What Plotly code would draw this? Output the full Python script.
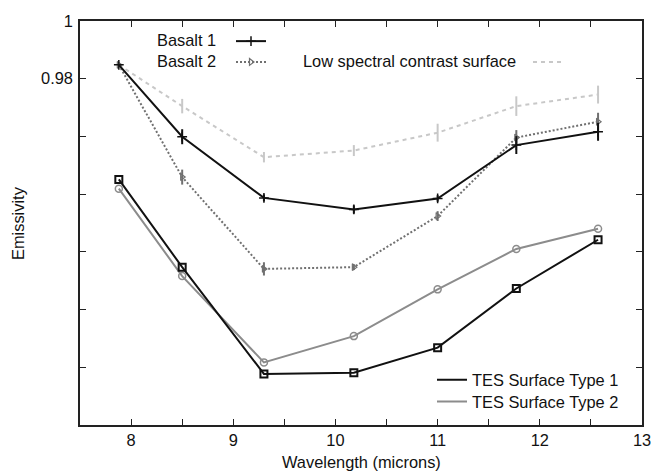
import plotly.graph_objects as go

# TES band centres (microns)
wavelength = [7.88, 8.50, 9.30, 10.18, 11.00, 11.77, 12.57]

basalt1 = [0.9848, 0.9599, 0.9387, 0.9347, 0.9385, 0.9570, 0.9616]
basalt1_err = [0.0, 0.0026, 0.0012, 0.0014, 0.0011, 0.0031, 0.0031]

basalt2 = [0.9848, 0.9459, 0.9141, 0.9147, 0.9324, 0.9596, 0.9651]
basalt2_err = [0.0, 0.0026, 0.0023, 0.0010, 0.0017, 0.0026, 0.0031]

low_contrast = [0.9848, 0.9705, 0.9528, 0.9551, 0.9613, 0.9705, 0.9745]
low_contrast_err = [0.0, 0.0025, 0.0018, 0.0019, 0.0031, 0.0034, 0.0031]

tes_type1 = [0.9451, 0.9147, 0.8777, 0.8781, 0.8868, 0.9073, 0.9242]
tes_type2 = [0.9419, 0.9116, 0.8817, 0.8908, 0.9070, 0.9210, 0.9280]

x_ticks = [8, 8.5, 9, 9.5, 10, 10.5, 11, 11.5, 12, 12.5, 13]
x_ticktext = ["8", "", "9", "", "10", "", "11", "", "12", "", "13"]
y_ticks = [0.88, 0.90, 0.92, 0.94, 0.96, 0.98, 1.0]
y_ticktext = ["", "", "", "", "", "0.98", "1"]

FONT = "Liberation Sans, Arial, sans-serif"
FS = 16.4
BLACK = "#111111"
MID_GREY = "#707070"
LIGHT_GREY = "#c8c8c8"
TES2_GREY = "#8c8c8c"

fig = go.Figure()

fig.add_trace(go.Scatter(
    x=wavelength, y=low_contrast, name="", legend="legend3",
    mode="lines", showlegend=True,
    line=dict(color=LIGHT_GREY, width=2, dash="4px,4px"),
    error_y=dict(type="data", array=low_contrast_err, width=0,
                 thickness=2, color=LIGHT_GREY),
))
fig.add_trace(go.Scatter(
    x=wavelength, y=basalt2, name="", legend="legend2",
    mode="lines+markers", showlegend=True,
    line=dict(color=MID_GREY, width=2, dash="2px,2px"),
    marker=dict(symbol="triangle-right-open", size=6,
                line=dict(color=MID_GREY, width=1.2)),
    error_y=dict(type="data", array=basalt2_err, width=0,
                 thickness=2, color=MID_GREY),
))
fig.add_trace(go.Scatter(
    x=wavelength, y=basalt1, name="", legend="legend",
    mode="lines+markers", showlegend=True,
    line=dict(color=BLACK, width=2),
    marker=dict(symbol="cross-thin-open", size=7,
                line=dict(color=BLACK, width=1.5)),
    error_y=dict(type="data", array=basalt1_err, width=0,
                 thickness=2, color=BLACK),
))
fig.add_trace(go.Scatter(
    x=wavelength, y=tes_type2, name="TES Surface Type 2",
    mode="lines+markers", showlegend=False,
    line=dict(color=TES2_GREY, width=2),
    marker=dict(symbol="circle-open", size=7,
                line=dict(color=TES2_GREY, width=1.5)),
))
fig.add_trace(go.Scatter(
    x=wavelength, y=tes_type1, name="TES Surface Type 1",
    mode="lines+markers", showlegend=False,
    line=dict(color=BLACK, width=2),
    marker=dict(symbol="square-open", size=7,
                line=dict(color=BLACK, width=2)),
))
# line-only keys for the TES legend
fig.add_trace(go.Scatter(
    x=[None], y=[None], name="TES Surface Type 1", legend="legend4",
    mode="lines", line=dict(color=BLACK, width=2), showlegend=True,
))
fig.add_trace(go.Scatter(
    x=[None], y=[None], name="TES Surface Type 2", legend="legend5",
    mode="lines", line=dict(color=TES2_GREY, width=2), showlegend=True,
))

W, H = 663, 473
ML, MR, MT, MB = 80, 21, 17, 48
PW, PH = W - ML - MR, H - MT - MB


def px(xp):
    return (xp - ML) / PW


def py(yp):
    return 1 - (yp - MT) / PH


def leg(x_left, y_top):
    return dict(x=px(x_left), y=py(y_top), xanchor="left", yanchor="top",
                bgcolor="rgba(0,0,0,0)", borderwidth=0,
                font=dict(family=FONT, size=FS, color=BLACK))


axis_common = dict(
    showline=True, linecolor="#222222", linewidth=1.5, mirror="ticks",
    ticks="inside", ticklen=6, tickwidth=1.2, tickcolor="#222222",
    showgrid=False, zeroline=False,
    tickfont=dict(family=FONT, size=FS, color=BLACK),
)

fig.update_layout(
    width=W, height=H,
    margin=dict(l=ML, r=MR, t=MT, b=MB),
    paper_bgcolor="white", plot_bgcolor="white",
    showlegend=True,
    font=dict(family=FONT, size=FS, color=BLACK),
    xaxis=dict(range=[7.5, 13], tickvals=x_ticks, ticktext=x_ticktext,
               **axis_common),
    yaxis=dict(range=[0.86, 1.0], tickvals=y_ticks, ticktext=y_ticktext,
               ticklabelstandoff=2, **axis_common),
    legend=leg(231, 20),
    legend2=leg(231, 41),
    legend3=leg(528, 41),
    legend4=leg(432, 362),
    legend5=leg(432, 384),
    annotations=[
        dict(text="Basalt 1", x=px(218), y=py(36), xref="paper", yref="paper",
             xanchor="right", yanchor="middle", showarrow=False),
        dict(text="Basalt 2", x=px(218), y=py(57.5), xref="paper",
             yref="paper", xanchor="right", yanchor="middle",
             showarrow=False),
        dict(text="Low spectral contrast surface", x=px(518), y=py(57.5),
             xref="paper", yref="paper", xanchor="right", yanchor="middle",
             showarrow=False),
        dict(text="Emissivity", x=0, y=0.5, xref="paper", yref="paper",
             xshift=-62, textangle=-90, xanchor="center", yanchor="middle",
             showarrow=False),
        dict(text="Wavelength (microns)", x=0.5, y=0, xref="paper",
             yref="paper", yshift=-37, xanchor="center", yanchor="middle",
             showarrow=False),
    ],
)

fig.write_html("out.html")
